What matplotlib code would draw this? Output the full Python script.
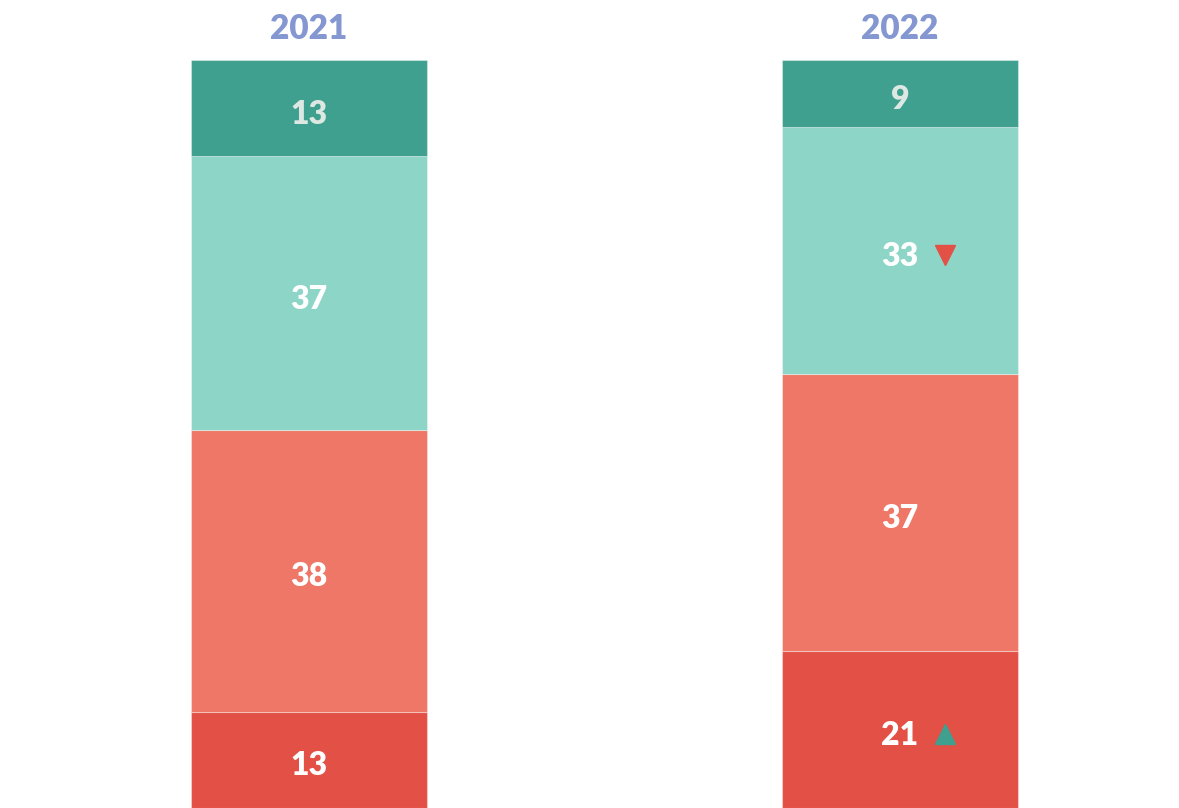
import numpy as np
import matplotlib.pyplot as plt

plt.rcParams['font.family'] = ['Lato', 'DejaVu Sans']

years = ['2021', '2022']
# bottom -> top segments
seg_bottom = [13, 21]
seg_low = [38, 37]
seg_mid = [37, 33]
seg_top = [13, 9]

colors = ['#E35046', '#EF7767', '#8DD5C6', '#3FA08F']
label_colors = ['white', 'white', 'white', '#DDE8E3']

# change markers: (year index, segment index, marker, colour)
changes = [(1, 2, 'v', '#E35046'), (1, 0, '^', '#3FA08F')]

data = np.array([seg_bottom, seg_low, seg_mid, seg_top], dtype=float)
share = data / data.sum(axis=0) * 100

fig = plt.figure(figsize=(11.79, 8.08), dpi=100)
ax = fig.add_axes([0, 0, 1, 1 - 60 / 808])

x = np.arange(len(years))
width = 0.399
bottom = np.zeros(len(years))
for i in range(4):
    ax.bar(x, share[i], width, bottom=bottom, color=colors[i],
           edgecolor=(1, 1, 1, 0.35), linewidth=0.8)
    for j in range(len(years)):
        ax.text(x[j], bottom[j] + share[i][j] / 2 - 0.8, '%d' % data[i][j],
                ha='center', va='center', fontsize=23, fontweight='heavy',
                color=label_colors[i])
    bottom += share[i]

cum = np.vstack([np.zeros(len(years)), np.cumsum(share, axis=0)])
for j, i, m, c in changes:
    ax.plot(x[j] + 0.076, (cum[i][j] + cum[i + 1][j]) / 2 - 0.6, marker=m,
            color=c, markersize=15, linestyle='none')

for j, y in enumerate(years):
    ax.text(x[j], 104.1, y, ha='center', va='center', fontsize=24,
            fontweight='heavy', color='#8497D1', clip_on=False)

ax.set_xlim(-0.5228, 1.4721)
ax.set_ylim(0, 100)
ax.axis('off')

plt.savefig('out.png', dpi=100)
